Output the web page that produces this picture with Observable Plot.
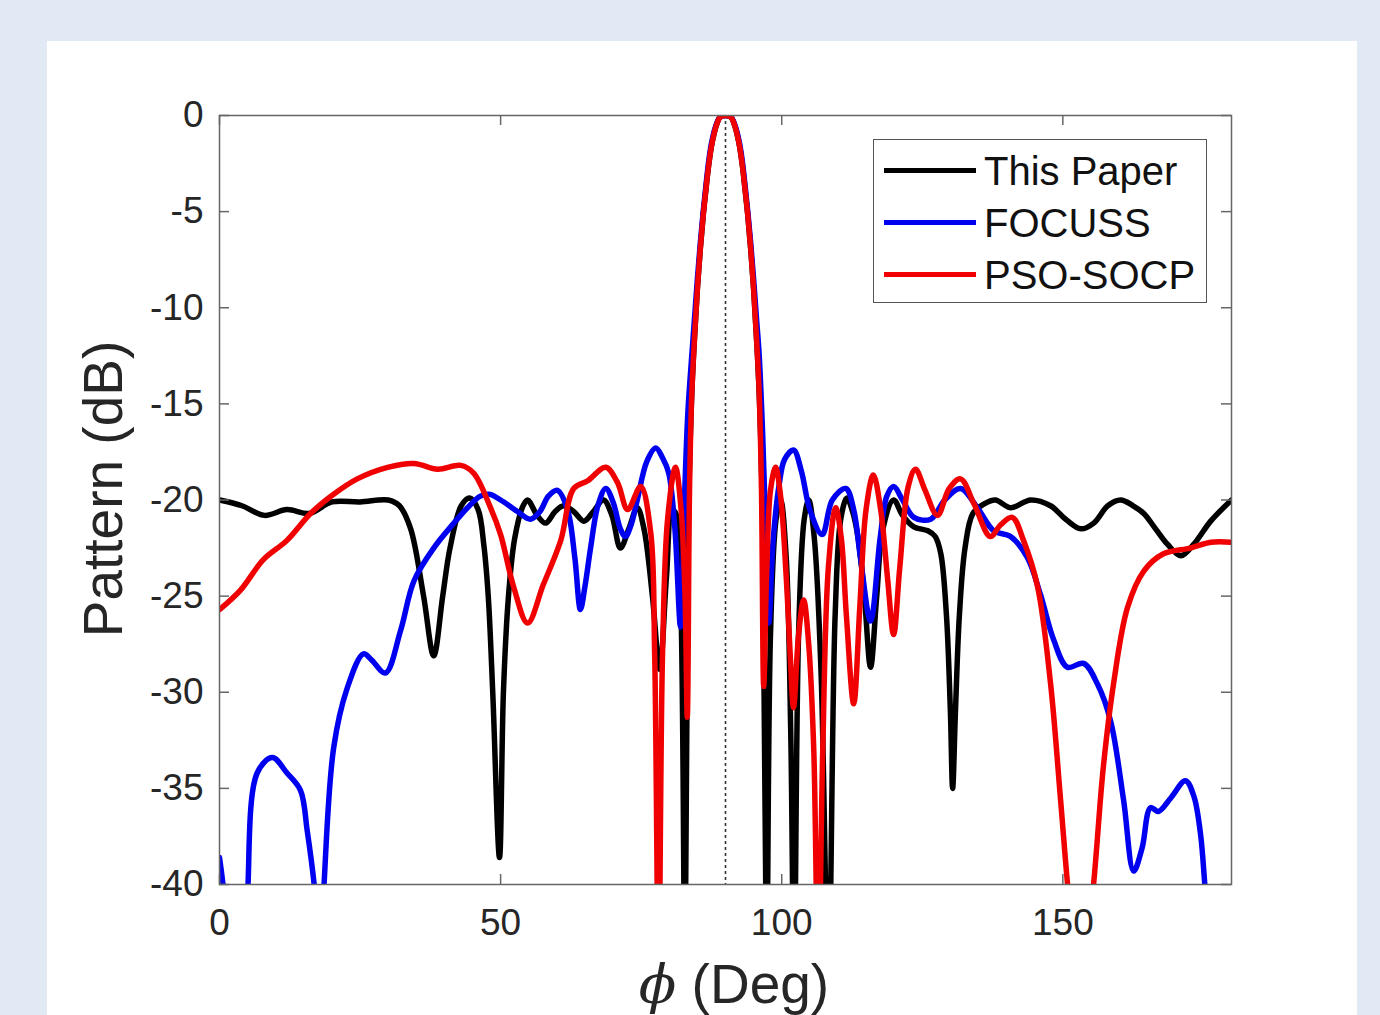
<!DOCTYPE html>
<html>
<head>
<meta charset="utf-8">
<script src="https://cdn.jsdelivr.net/npm/d3@7"></script>
<script src="https://cdn.jsdelivr.net/npm/@observablehq/plot@0.6"></script>
<style>
  body { margin:0; background:#e1e9f5; width:1380px; height:1015px; overflow:hidden; font-family:"Liberation Sans", Arial, sans-serif; }
  #panel { position:absolute; left:47px; top:41px; width:1310px; height:980px; background:#fff; }
  #chart { position:absolute; left:0; top:0; }
  .title { position:absolute; width:600px; height:56px; line-height:56px; font-size:55px; text-align:center; color:#262626; white-space:nowrap; }
  #legend { position:absolute; left:873px; top:139px; width:332px; height:162px; border:1.5px solid #555; background:#fff; }
  .row { position:absolute; left:0; height:40px; width:330px; }
  .swatch { position:absolute; left:10px; top:17px; width:92px; height:5px; }
  .lab { position:absolute; left:110px; top:0; font-size:40px; line-height:40px; color:#111; white-space:nowrap; }
</style>
</head>
<body>
<div id="panel"></div>
<div id="chart"></div>
<div class="title" id="ytitle" style="left:-197px; top:461px; transform:rotate(-90deg);">Pattern (dB)</div>
<div class="title" id="xtitle" style="left:434px; top:956px;"><span style="font-family:'DejaVu Serif';font-style:italic;">ϕ</span> (Deg)</div>
<div id="legend"></div>
<script>
// ---- data ----
const seriesNames = ["This Paper", "FOCUSS", "PSO-SOCP"];
const seriesColors = ["#000000", "#0000f0", "#f00000"];
const xTicks = [0, 50, 100, 150];
const yTicks = [0, -5, -10, -15, -20, -25, -30, -35, -40];
const steerAngle = [90];

const thisPaper = [[0,-20],[4,-20.3],[8,-20.8],[12,-20.5],[16,-20.7],[20,-20.1],[25,-20.1],[30,-20],[32,-20.3],[34,-21.5],[36.3,-25],[38.1,-28.1],[39.7,-25],[41,-22.5],[43,-20.3],[44.5,-19.9],[46,-20.5],[47,-22.3],[47.8,-25],[48.6,-30],[49.8,-38.6],[50.5,-30],[51.4,-25],[52.5,-22],[54,-20.3],[54.8,-20],[56.5,-20.8],[58,-21.2],[59.7,-20.6],[61.2,-20.3],[63,-20.6],[64.8,-21.1],[66.5,-20.6],[68.3,-20],[69.8,-20.8],[71.3,-22.5],[72.8,-21.5],[74.3,-20.4],[75.5,-21.5],[77,-25],[78.3,-28.8],[79.5,-24],[80.5,-20.5],[81.3,-20.8],[82.1,-26],[82.8,-45],[83.4,-21],
  [84,-14.5],[84.5,-11.5],[85,-9],[85.5,-7],[86,-5.3],[86.5,-3.9],[87,-2.6],[87.5,-1.6],[88,-0.9],[88.5,-0.4],[89,-0.1],[89.5,-0.02],[90,0],[90.5,-0.02],[91,-0.1],[91.5,-0.4],[92,-0.9],[92.5,-1.6],[93,-2.6],[93.5,-3.9],[94,-5.3],[94.5,-7],[95,-9],[95.5,-11.5],[96,-14.5],
  [96.6,-21],[97.3,-45],[98,-27],[99,-21],[99.8,-20],[100.8,-23],[101.6,-32],[102.2,-45],[103,-27],[104,-21],[104.8,-20],[105.8,-22],[107,-29],[108.3,-45],[109.5,-26],[110.5,-21],[111.6,-19.9],[112.6,-20.6],[113.6,-22],[114.7,-25],[115.8,-28.7],[116.9,-25],[118,-21.5],[119.9,-20],[121.5,-20.8],[123.5,-21.4],[126,-21.6],[127.3,-21.9],[128.3,-22.8],[129.3,-26],[130,-31],[130.4,-35],[130.9,-31],[131.6,-26],[132.6,-22.5],[134,-20.7],[136,-20.2],[138,-20],[140.7,-20.4],[144.3,-20],[147.8,-20.3],[150.5,-21],[153.2,-21.5],[155.5,-21.2],[158,-20.3],[160.3,-20],[162.5,-20.3],[164.4,-20.7],[166.5,-21.5],[168.6,-22.3],[171,-22.9],[173.3,-22.3],[176.3,-21.1],[180,-20]];

const focuss = [[0,-38.6],[0.8,-40.5],[2,-46],[3.5,-48],[4.5,-44],[5,-40.5],[6.7,-34.2],[9.4,-33.4],[12,-34.2],[14.4,-35.1],[15.6,-37.2],[17,-40.5],[17.7,-45],[18.5,-40.5],[20.3,-32.9],[22.7,-29.8],[25.6,-28],[27,-28.3],[29.5,-29],[32.2,-26.8],[34.6,-24.2],[38.1,-22.5],[41.7,-21.2],[44.1,-20.4],[46.4,-19.8],[48,-19.7],[50,-20],[53,-20.6],[55.3,-21],[57,-20.6],[58.5,-19.8],[60.1,-19.5],[61.9,-20.5],[63.2,-23],[64.2,-25.7],[65,-24.5],[66,-22.5],[67.3,-20.3],[68.7,-19.4],[70,-20.1],[71.3,-21.5],[72.2,-21.9],[73.2,-21.3],[74.3,-20],[76,-18],[77.6,-17.3],[78.8,-17.8],[79.9,-18.6],[81,-21.5],[82,-26.6],[82.7,-20],[83.3,-15.5],
  [84,-12.5],[84.5,-10.5],[85,-8.5],[85.5,-6.7],[86,-5.1],[86.5,-3.7],[87,-2.4],[87.5,-1.45],[88,-0.8],[88.5,-0.35],[89,-0.08],[89.5,-0.02],[90,0],[90.5,-0.02],[91,-0.08],[91.5,-0.35],[92,-0.8],[92.5,-1.45],[93,-2.4],[93.5,-3.7],[94,-5.1],[94.5,-6.7],[95,-8.5],[95.5,-10.5],[96,-12.5],
  [96.6,-16.5],[97.2,-22],[97.7,-26.4],[98.5,-22],[99.5,-19.3],[100.5,-17.9],[102.1,-17.4],[103.5,-18.5],[105,-20.5],[107.2,-21.8],[109,-20],[111.4,-19.4],[112.8,-20.5],[114,-23],[115.8,-26.3],[117.5,-22],[118.7,-19.8],[119.9,-19.3],[121.5,-20],[123.5,-20.9],[126.5,-21],[129,-20],[131.8,-19.4],[134.8,-20.4],[137.7,-21.6],[140.7,-21.9],[143.7,-23],[146,-24.9],[148.4,-27.3],[150.8,-28.7],[153.7,-28.5],[156.2,-29.6],[158.5,-31.5],[160.8,-35.6],[162.6,-39.3],[164.1,-38.1],[165.6,-36],[167,-36.2],[169.2,-35.5],[171.8,-34.6],[173.3,-35.4],[174.5,-37.4],[175.4,-40.5],[177,-45],[180,-50]];

const psoSocp = [[0,-25.7],[3.7,-24.7],[7.8,-23.1],[12,-22.1],[16.2,-20.7],[20.3,-19.7],[24.5,-18.9],[29.9,-18.3],[34.6,-18.1],[38.8,-18.4],[42.9,-18.2],[45.2,-18.6],[48.2,-20.4],[50,-21.8],[52.3,-24.5],[54.8,-26.4],[57.6,-24.4],[60.7,-22.1],[63,-19.4],[65.5,-19],[68.7,-18.3],[70.8,-19.1],[72.6,-20.5],[74.9,-19.3],[76.7,-21.7],[77.4,-28],[78.1,-45],[78.8,-28],[79.7,-21],[81.1,-18.3],[82.1,-20.5],[82.8,-25],[83.2,-31.3],[83.6,-19.5],
  [84,-14.5],[84.5,-11.5],[85,-9],[85.5,-7],[86,-5.3],[86.5,-3.9],[87,-2.6],[87.5,-1.6],[88,-0.9],[88.5,-0.4],[89,-0.1],[89.5,-0.02],[90,0],[90.5,-0.02],[91,-0.1],[91.5,-0.4],[92,-0.9],[92.5,-1.6],[93,-2.6],[93.5,-3.9],[94,-5.3],[94.5,-7],[95,-9],[95.5,-11.5],[96,-14.5],
  [96.4,-19.5],[96.8,-29.7],[97.3,-24],[98,-19.5],[98.9,-18.3],[99.8,-19.8],[100.8,-24],[101.5,-28],[102.1,-30.8],[103,-27],[103.9,-25.2],[104.8,-27.5],[105.7,-33],[106.5,-45],[107.3,-33],[108.3,-23.5],[109.6,-20.4],[110.6,-22],[111.5,-26],[112.8,-30.6],[113.9,-25.5],[115,-20.5],[116.3,-18.7],[117.6,-20.5],[118.8,-24],[119.9,-27],[121,-23.5],[122.5,-19.3],[123.8,-18.4],[125.5,-19.5],[127.7,-20.8],[129.8,-19.4],[131.8,-18.9],[134.2,-20.2],[137.1,-21.9],[138.9,-21.3],[141,-20.9],[143,-22.1],[145.5,-24.5],[147.8,-29.5],[149.6,-35.6],[151,-40.5],[153,-46],[155.3,-40.5],[157.2,-33.9],[159,-29.6],[161.5,-25.6],[164.4,-23.7],[167.9,-22.8],[172.7,-22.5],[176.3,-22.2],[180,-22.2]];

// ---- layout ----
const W = 1380, H = 1015;
const mL = 219, mR = 149, mT = 115, mB = 131;
const plotW = W - mL - mR, plotH = H - mT - mB;
const tickLen = 10;
const toRows = arr => arr.map(([phi, db]) => ({phi, db}));
const allSeries = [thisPaper, focuss, psoSocp];

const lineMarks = allSeries.map((s, i) =>
  Plot.line(toRows(s), {x: "phi", y: "db", stroke: seriesColors[i], strokeWidth: 5.5, curve: "catmull-rom", clip: true, strokeLinejoin: "round", strokeLinecap: "round"})
);

const chart = Plot.plot({
  width: W, height: H,
  marginLeft: mL, marginRight: mR, marginTop: mT, marginBottom: mB,
  x: {domain: [0, 180]},
  y: {domain: [-40, 0]},
  style: {background: "transparent", fontFamily: "'Liberation Sans', Arial, sans-serif", color: "#262626", overflow: "visible"},
  marks: [
    Plot.ruleX(steerAngle, {stroke: "#333", strokeWidth: 1.6, strokeDasharray: "3,3"}),
    ...lineMarks,
    Plot.frame({stroke: "#666", strokeWidth: 1.5}),
    Plot.tickX(xTicks, {x: d => d, insetTop: plotH - tickLen, stroke: "#666", strokeWidth: 1.5}),
    Plot.tickX(xTicks, {x: d => d, insetBottom: plotH - tickLen, stroke: "#666", strokeWidth: 1.5}),
    Plot.tickY(yTicks, {y: d => d, insetRight: plotW - tickLen, stroke: "#666", strokeWidth: 1.5}),
    Plot.tickY(yTicks, {y: d => d, insetLeft: plotW - tickLen, stroke: "#666", strokeWidth: 1.5}),
    Plot.axisX(xTicks, {anchor: "bottom", tickSize: 0, tickPadding: 24, label: null, fontSize: 37, tickFormat: d => String(d)}),
    Plot.axisY(yTicks, {anchor: "left", tickSize: 0, tickPadding: 16, label: null, fontSize: 37, tickFormat: d => String(d)})
  ]
});
document.getElementById("chart").appendChild(chart);

// ---- legend ----
const legend = document.getElementById("legend");
const rowTops = [11, 63, 115];
seriesNames.forEach((name, i) => {
  const row = document.createElement("div");
  row.className = "row";
  row.style.top = rowTops[i] + "px";
  const sw = document.createElement("div");
  sw.className = "swatch";
  sw.style.background = seriesColors[i];
  const lab = document.createElement("div");
  lab.className = "lab";
  lab.textContent = name;
  row.appendChild(sw); row.appendChild(lab);
  legend.appendChild(row);
});
</script>
</body>
</html>
